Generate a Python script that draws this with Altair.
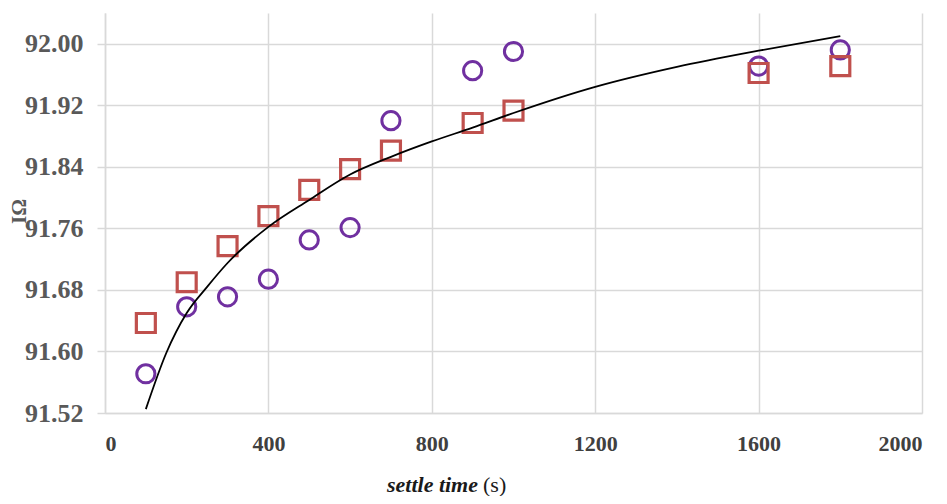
import altair as alt
import pandas as pd

# settle time (s)
times = [100, 200, 300, 400, 500, 600, 700, 900, 1000, 1600, 1800]
# series
squares = [91.637, 91.690, 91.737, 91.776, 91.810, 91.837, 91.861, 91.897, 91.913, 91.962, 91.971]
circles = [91.571, 91.658, 91.671, 91.694, 91.745, 91.761, 91.900, 91.965, 91.990, 91.971, 91.992]
# trend curve
trend_x = [100, 150, 200, 250, 300, 400, 500, 600, 700, 800, 900, 1000, 1200, 1400, 1600, 1800]
trend_y = [91.525, 91.598, 91.650, 91.684, 91.715, 91.762, 91.797, 91.830, 91.853, 91.873,
           91.891, 91.910, 91.944, 91.970, 91.991, 92.010]

x_ticks = [0, 400, 800, 1200, 1600, 2000]
y_ticks = [91.52, 91.60, 91.68, 91.76, 91.84, 91.92, 92.00]

df_sq = pd.DataFrame({"t": times, "v": squares})
df_ci = pd.DataFrame({"t": times, "v": circles})
df_tr = pd.DataFrame({"t": trend_x, "v": trend_y})

FONT = "Liberation Serif"
GRID = "#d9d9d9"

xs = alt.Scale(domain=[0, 2000], nice=False)
ys = alt.Scale(domain=[91.52, 92.04], nice=False, zero=False)

x_axis = alt.Axis(values=x_ticks, format="d", grid=True, gridColor=GRID, gridWidth=1.5,
                  domainColor=GRID, domainWidth=1.5, ticks=False,
                  labelFont=FONT, labelFontSize=22, labelFontWeight="bold",
                  labelColor="#404040", labelPadding=20, title=None)
y_axis = alt.Axis(values=y_ticks, format=".2f", grid=True, gridColor=GRID, gridWidth=1.5,
                  domainColor=GRID, domainWidth=1.5, tickColor=GRID, tickSize=8, tickWidth=1.5,
                  labelFont=FONT, labelFontSize=26, labelFontWeight="bold",
                  labelColor="#595959", labelPadding=14,
                  title="IΩ", titleFont=FONT, titleFontSize=21, titleFontWeight="bold",
                  titleColor="#595959", titleAngle=270, titleAlign="center",
                  titleBaseline="middle", titleX=-86, titleY=198)

circ = alt.Chart(df_ci).mark_point(shape="circle", filled=False, size=330,
                                   strokeWidth=3, color="#7030A0", opacity=1).encode(
    x=alt.X("t:Q", scale=xs, axis=x_axis),
    y=alt.Y("v:Q", scale=ys, axis=y_axis),
)
sq = alt.Chart(df_sq).mark_point(shape="square", filled=False, size=360,
                                 strokeWidth=3.2, color="#C0504D", opacity=1).encode(
    x=alt.X("t:Q", scale=xs),
    y=alt.Y("v:Q", scale=ys),
)
trend = alt.Chart(df_tr).mark_line(color="black", strokeWidth=1.8, interpolate="monotone").encode(
    x=alt.X("t:Q", scale=xs),
    y=alt.Y("v:Q", scale=ys),
)

title_df = pd.DataFrame({"a": ["settle time"], "b": ["(s)"]})
t1 = alt.Chart(title_df).mark_text(font=FONT, fontSize=22, fontStyle="italic", fontWeight="bold",
                                   color="#1a1a1a", align="right", baseline="alphabetic").encode(
    text="a:N", x=alt.value(373), y=alt.value(479))
t2 = alt.Chart(title_df).mark_text(font=FONT, fontSize=22, color="#1a1a1a",
                                   align="left", baseline="alphabetic").encode(
    text="b:N", x=alt.value(378), y=alt.value(479))

chart = alt.layer(circ, sq, trend, t1, t2).properties(
    width=817, height=400,
    autosize=alt.AutoSizeParams(type="none"),
    padding={"left": 97, "top": 5, "right": 17, "bottom": 83},
).configure_view(stroke=None)

chart.save("out.html", embed_options={"renderer": "svg", "actions": False})
